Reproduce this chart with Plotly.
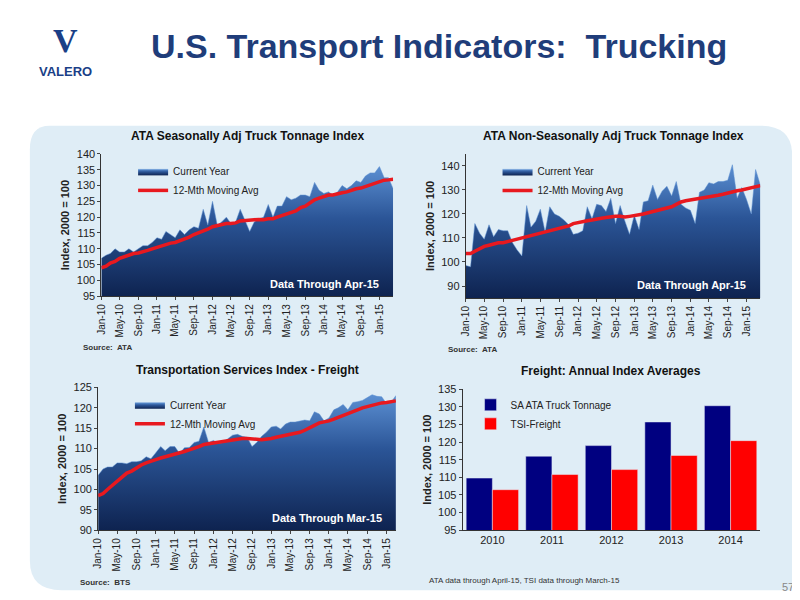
import pandas as pd
import plotly.graph_objects as go

# ---- data ----
months = pd.date_range("2010-01-01", "2015-04-01", freq="MS")

ata_sa = [107, 108, 108.5, 110, 109, 109, 110, 109, 110, 111, 111, 112,
          113.5, 113, 115.5, 114.5, 113.5, 116, 114.5, 116, 117, 116.5, 122.5, 117.5,
          125, 117.5, 118.5, 120, 118, 118.5, 122.5, 119, 115.5, 118.5, 119.5, 120,
          124, 120, 123.5, 123.5, 126.5, 125.5, 126, 127, 127, 126.5, 131, 128.5,
          127.5, 128, 127, 128, 130, 129, 130, 131.5, 131, 133, 134, 134,
          136, 132.5, 132.5, 129]
ata_sa_ma = [104, 104.5, 105.5, 106, 107, 107.5, 108, 108.5, 108.7, 109, 109.5, 110,
             110.5, 111, 111.5, 111.8, 112, 112.5, 113, 113.7, 114.5, 115, 115.5, 116.2,
             117, 117.3, 117.6, 118, 118, 118.2, 118.8, 119, 119, 119.2, 119.3, 119.2,
             119.5, 119.5, 120, 120.5, 121, 121.5, 122, 123, 123.5, 124.5, 125.5, 126,
             126.5, 127, 127, 127.5, 127.7, 128, 128.5, 129, 129.2, 129.7, 130.3, 130.8,
             131.2, 131.7, 131.8, 132]

ata_nsa = [98.5, 98, 116, 112, 109.5, 115.5, 110.5, 113.5, 113, 113, 108, 105,
           102.5, 123.5, 114.5, 117, 122, 112.5, 123, 120, 119, 117.5, 115.5, 111.5,
           112, 113, 123, 118, 124, 123.5, 121, 126.5, 116, 123.5, 117, 111.5,
           119.5, 113.5, 125, 125.5, 132, 126, 129.5, 131.5, 127.5, 133.5, 124, 122.5,
           121.5, 116, 129, 130, 133, 132.5, 133.5, 133.5, 134, 140.5, 126.5, 131,
           126, 120, 138.5, 132]
ata_nsa_ma = [103.5, 103.5, 104.5, 105.5, 106.5, 107, 107.5, 108, 108, 108.5, 109, 109.5,
              110, 110.5, 111, 111.5, 112, 112.5, 113, 113.5, 114, 114.5, 115, 116,
              116.5, 117, 117.2, 117.5, 118, 118.2, 118.5, 118.8, 119, 119, 118.7, 119,
              119.3, 119.5, 120, 120.5, 121, 121.5, 122, 122.5, 123, 124, 125, 125.5,
              125.8, 126, 126.3, 126.7, 127, 127.3, 127.8, 128.2, 128.8, 129.3, 129.7, 130,
              130.5, 131, 131.5, 131.8]

tsi = [103.5, 105, 105.5, 105.5, 106.5, 106.5, 106.3, 106.8, 106.8, 107, 108, 107.5,
       109, 110.5, 109.5, 110.5, 110.5, 108.8, 110.2, 110.3, 111.5, 111.8, 115.3, 111.5,
       112, 111.3, 111.5, 112.5, 113.3, 113.5, 113, 112.8, 110.5, 111.5, 113, 114,
       115.3, 115.5, 114.8, 116, 116.5, 116.5, 116.8, 117, 116.8, 119, 118.5, 116.8,
       117.5, 119.5, 120, 120.8, 119.5, 121.3, 121.5, 121.8, 122.5, 123.2, 122.8, 122.7,
       121, 121.5, 123]
tsi_ma = [98.5, 99, 100, 101, 102, 103, 104, 104.5, 105.3, 106, 106.5, 107,
          107.3, 107.7, 108, 108.3, 108.5, 108.8, 109.3, 109.7, 110, 110.5, 111, 111.2,
          111.3, 111.5, 111.8, 112, 112.2, 112.4, 112.5, 112.5, 112.3, 112.3, 112.2, 112.3,
          112.5, 112.8, 113, 113.2, 113.5, 113.8, 114, 114.5, 115, 115.7, 116.3, 116.5,
          116.8, 117.2, 117.6, 118, 118.5, 119, 119.5, 120, 120.3, 120.7, 121, 121.2,
          121.3, 121.5, 121.7]

years = ["2010", "2011", "2012", "2013", "2014"]
avg_ata = [109.8, 116.0, 119.0, 125.7, 130.3]
avg_tsi = [106.5, 110.8, 112.2, 116.2, 120.4]

FONT = "Liberation Sans Narrow, Liberation Sans, sans-serif"
GRAD = dict(type="vertical", colorscale=[[0, "#0e2350"], [0.6, "#2b5597"], [1, "#5b8fd2"]])

fig = go.Figure()

panels = [
    ("x", "y", ata_sa, ata_sa_ma, [0.11, 0.4775], [0.52, 0.762], [95, 140], 5,
     "legend", "ATA Seasonally Adj Truck Tonnage Index", "Data Through Apr-15", "Source:  ATA"),
    ("x2", "y2", ata_nsa, ata_nsa_ma, [0.569, 0.94], [0.517, 0.762], [85, 145], 10,
     "legend2", "ATA Non-Seasonally Adj Truck Tonnage Index", "Data Through Apr-15", "Source:  ATA"),
    ("x3", "y3", tsi, tsi_ma, [0.106, 0.481], [0.122, 0.365], [90, 125], 5,
     "legend3", "Transportation Services Index - Freight", "Data Through Mar-15", "Source:  BTS"),
]

for i, (xa, ya, vals, ma, dx, dy, rng, dt, leg, title, note, src) in enumerate(panels):
    n = len(vals)
    x = months[:n]
    # baseline at axis floor so the gradient spans only the visible area
    fig.add_trace(go.Scatter(x=x, y=[rng[0]] * n, xaxis=xa, yaxis=ya, mode="lines",
                             line=dict(width=0), showlegend=False, hoverinfo="skip"))
    fig.add_trace(go.Scatter(x=x, y=vals, xaxis=xa, yaxis=ya, mode="lines",
                             line=dict(color="#5a8fd0", width=0.5), fill="tonexty",
                             fillgradient=GRAD, name="Current Year", legend=leg))
    fig.add_trace(go.Scatter(x=x, y=ma, xaxis=xa, yaxis=ya, mode="lines",
                             line=dict(color="#e8191f", width=3.5),
                             name="12-Mth Moving Avg", legend=leg))
    sfx = "" if i == 0 else str(i + 1)
    fig.layout["xaxis" + sfx] = dict(domain=dx, anchor=ya, type="date",
                                     range=["2010-01-01", x[-1].strftime("%Y-%m-%d")],
                                     dtick="M4", tick0="2010-01-01", tickformat="%b-%y",
                                     tickangle=-90, showline=True, linecolor="#333",
                                     ticks="outside", ticklen=3, showgrid=False,
                                     tickfont=dict(size=10, color="#222"))
    fig.layout["yaxis" + sfx] = dict(domain=dy, anchor=xa, range=rng, dtick=dt,
                                     showline=True, linecolor="#333", ticks="outside",
                                     ticklen=3, showgrid=False,
                                     tickfont=dict(size=11, color="#222"),
                                     title=dict(text="<b>Index, 2000 = 100</b>",
                                                font=dict(size=11), standoff=4))
    fig.layout[leg] = dict(x=dx[0] + 0.04, y=dy[1] - 0.005, xanchor="left", yanchor="top",
                           bgcolor="rgba(0,0,0,0)", font=dict(size=10), tracegroupgap=0,
                           traceorder="normal", itemwidth=30)
    xm = (dx[0] + dx[1]) / 2
    fig.add_annotation(text=f"<b>{title}</b>", x=xm, y=dy[1] + 0.015, xref="paper",
                       yref="paper", showarrow=False, xanchor="center", yanchor="bottom",
                       font=dict(size=12, color="#111"))
    fig.add_annotation(text=f"<b>{note}</b>", x=dx[1] - 0.015, y=dy[0] + 0.008,
                       xref="paper", yref="paper", showarrow=False, xanchor="right",
                       yanchor="bottom", font=dict(size=11, color="white"))
    fig.add_annotation(text=f"<b>{src}</b>", x=dx[0] - 0.025, y=dy[0] - 0.088,
                       xref="paper", yref="paper", showarrow=False, xanchor="left",
                       yanchor="middle", font=dict(size=8, color="#333"))

# annual averages bar chart
fig.add_trace(go.Bar(x=years, y=avg_ata, name="SA ATA Truck Tonnage", marker_color="#000080",
                     xaxis="x4", yaxis="y4", legend="legend4"))
fig.add_trace(go.Bar(x=years, y=avg_tsi, name="TSI-Freight", marker_color="#ff0000",
                     xaxis="x4", yaxis="y4", legend="legend4"))
fig.update_layout(
    barmode="group", bargap=0.12, bargroupgap=0,
    xaxis4=dict(domain=[0.565, 0.94], anchor="y4", showline=True, linecolor="#333",
                tickfont=dict(size=11, color="#222")),
    yaxis4=dict(domain=[0.122, 0.362], anchor="x4", range=[95, 135], dtick=5,
                showline=True, linecolor="#333", ticks="outside", ticklen=3,
                showgrid=False, tickfont=dict(size=11, color="#222"),
                title=dict(text="<b>Index, 2000 = 100</b>", font=dict(size=11), standoff=4)),
    legend4=dict(x=0.575, y=0.36, xanchor="left", yanchor="top", bgcolor="rgba(0,0,0,0)",
                 font=dict(size=10), tracegroupgap=0),
)
fig.add_annotation(text="<b>Freight: Annual Index Averages</b>", x=0.7525, y=0.377,
                   xref="paper", yref="paper", showarrow=False, xanchor="center",
                   yanchor="bottom", font=dict(size=12, color="#111"))
fig.add_annotation(text="ATA data through April-15, TSI data through March-15",
                   x=0.52, y=0.036, xref="paper", yref="paper", showarrow=False,
                   xanchor="left", yanchor="middle", font=dict(size=8, color="#333"))

# slide decoration
fig.add_shape(type="path", xref="paper", yref="paper", layer="below",
              path="M 0.045 0.81 L 0.94 0.81 Q 0.98 0.81 0.98 0.76 L 0.98 0.02 "
                   "L 0.06 0.02 Q 0.02 0.02 0.02 0.07 L 0.02 0.77 Q 0.02 0.81 0.045 0.81 Z",
              fillcolor="#dfedf6", line=dict(width=0))
fig.add_annotation(text="<b>U.S. Transport Indicators:  Trucking</b>", x=0.535, y=0.945,
                   xref="paper", yref="paper", showarrow=False, xanchor="center",
                   yanchor="middle", font=dict(size=34, color="#1f3d7a", family=FONT))
fig.add_annotation(text="<b>V</b>", x=0.065, y=0.955, xref="paper", yref="paper",
                   showarrow=False, xanchor="center", yanchor="middle",
                   font=dict(size=34, color="#1a3f87", family="Liberation Serif"))
fig.add_annotation(text="<b>VALERO</b>", x=0.065, y=0.902, xref="paper", yref="paper",
                   showarrow=False, xanchor="center", yanchor="middle",
                   font=dict(size=13, color="#1a3f87", family="Liberation Sans"))
fig.add_annotation(text="57", x=0.985, y=0.025, xref="paper", yref="paper", showarrow=False,
                   xanchor="right", yanchor="middle", font=dict(size=11, color="#888"))

fig.update_layout(width=800, height=600, margin=dict(l=0, r=0, t=0, b=0),
                  paper_bgcolor="white", plot_bgcolor="rgba(0,0,0,0)",
                  font=dict(family=FONT, color="#222"))

fig.write_html("out.html")
